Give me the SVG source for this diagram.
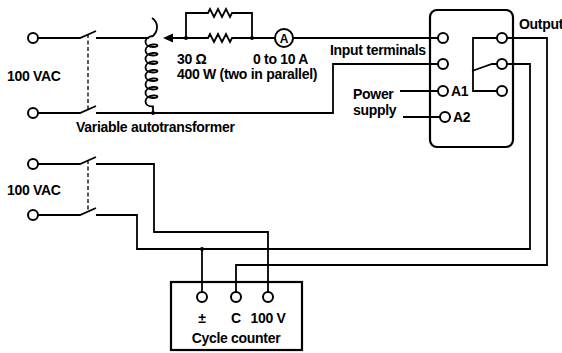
<svg xmlns="http://www.w3.org/2000/svg" width="562" height="353" viewBox="0 0 562 353">
<style>
.w{fill:none;stroke:#000;stroke-width:1.8;stroke-linejoin:miter}
.t{fill:none;stroke:#000;stroke-width:2}
.d{fill:none;stroke:#000;stroke-width:1.3;stroke-dasharray:4 2.5}
.b{fill:none;stroke:#000;stroke-width:2.2}
.dot{fill:#000}
text{font-family:"Liberation Sans",Arial,sans-serif;font-size:14px;font-weight:bold;fill:#000;letter-spacing:-0.3px}
</style>
<rect width="562" height="353" fill="#fff"/>
<g id="connectors">
<path class="w" d="M38,38 H80 L96,31 M96,38 H149"/>
<path class="w" d="M38,113 H80 L96,106 M96,113 H333 V64 H438"/>
<path class="d" d="M88,34 V110"/>
<path class="w" d="M172,38 H208 l2,-4 l4,8 l4,-8 l4,8 l4,-8 l4,8 l2,-4 H275"/>
<path class="w" d="M186,38 V13 H208 l2,-4 l4,8 l4,-8 l4,8 l4,-8 l4,8 l2,-4 H252 V38"/>
<polygon points="163,38 173,33.5 173,42.5" fill="#000"/>
<path class="w" d="M293,38 H438"/>
<path class="w" d="M400,91 H438"/>
<path class="w" d="M403,117 H440"/>
<path class="w" d="M38,164 H80 L96,157 M96,164 H154 V232 H268 V292"/>
<path class="w" d="M38,215 H80 L96,208 M96,215 H137 V249 H530 V64 H507"/>
<path class="d" d="M88,160 V212"/>
<path class="w" d="M202,249 V292"/>
<path class="w" d="M236,292 V265 H547 V38 H507"/>
<circle class="dot" cx="186" cy="38" r="2"/>
<circle class="dot" cx="252" cy="38" r="2"/>
<circle class="dot" cx="153" cy="113" r="2"/>
<circle class="dot" cx="202" cy="249" r="2"/>
</g>
<g id="terminals-left">
<circle class="t" cx="33" cy="38" r="5" fill="#fff"/>
<circle class="t" cx="33" cy="113" r="5" fill="#fff"/>
<circle class="t" cx="33" cy="164" r="5" fill="#fff"/>
<circle class="t" cx="33" cy="215" r="5" fill="#fff"/>
<text x="7" y="81">100 VAC</text>
<text x="7" y="195">100 VAC</text>
</g>
<g id="autotransformer">
<path class="w" d="M152,18 C158,22 159,30 153,36 C143,37 143,47 153,47 C159,47 159,44 153,44.5 C143,45.5 143,55.5 153,55.5 C159,55.5 159,52.5 153,53 C143,54 143,64 153,64 C159,64 159,61 153,61.5 C143,62.5 143,72.5 153,72.5 C159,72.5 159,69.5 153,70 C143,71 143,81 153,81 C159,81 159,78 153,78.5 C143,79.5 143,89.5 153,89.5 C159,89.5 159,86.5 153,87 C143,88 143,98 153,98 C159,98 159,95 153,95.5 C143,96.5 143,106.5 153,106.5 L153,113"/>
<text x="76" y="132">Variable autotransformer</text>
</g>
<g id="resistors">
<text x="177" y="64">30 Ω</text>
<text x="177" y="79">400 W (two in parallel)</text>
</g>
<g id="ammeter">
<circle class="t" cx="284" cy="38" r="9" fill="#fff"/>
<text x="284" y="42.5" text-anchor="middle" style="font-size:12px;letter-spacing:0">A</text>
<text x="253" y="64">0 to 10 A</text>
</g>
<g id="relay">
<rect class="b" x="430" y="10" width="83" height="137" rx="7"/>
<path class="w" d="M497,38 H473 V91 H497"/>
<path class="w" d="M472,71 L492,64 H497"/>
<circle class="t" cx="443" cy="38" r="5" fill="#fff"/>
<circle class="t" cx="443" cy="64" r="5" fill="#fff"/>
<circle class="t" cx="443" cy="91" r="5" fill="#fff"/>
<circle class="t" cx="445" cy="117" r="5" fill="#fff"/>
<circle class="t" cx="502" cy="38" r="5" fill="#fff"/>
<circle class="t" cx="502" cy="64" r="5" fill="#fff"/>
<circle class="t" cx="502" cy="91" r="5" fill="#fff"/>
<text x="451" y="96">A1</text>
<text x="453" y="122">A2</text>
<text x="330" y="55">Input terminals</text>
<text x="353" y="99">Power</text>
<text x="353" y="115">supply</text>
<text x="519" y="29">Output</text>
</g>
<g id="cycle-counter">
<rect class="b" x="171" y="282" width="131" height="68"/>
<circle class="t" cx="202" cy="297" r="5" fill="#fff"/>
<circle class="t" cx="236" cy="297" r="5" fill="#fff"/>
<circle class="t" cx="268" cy="297" r="5" fill="#fff"/>
<text x="202" y="323" text-anchor="middle">±</text>
<text x="236" y="323" text-anchor="middle">C</text>
<text x="268" y="323" text-anchor="middle">100 V</text>
<text x="236" y="343" text-anchor="middle">Cycle counter</text>
</g>
</svg>
